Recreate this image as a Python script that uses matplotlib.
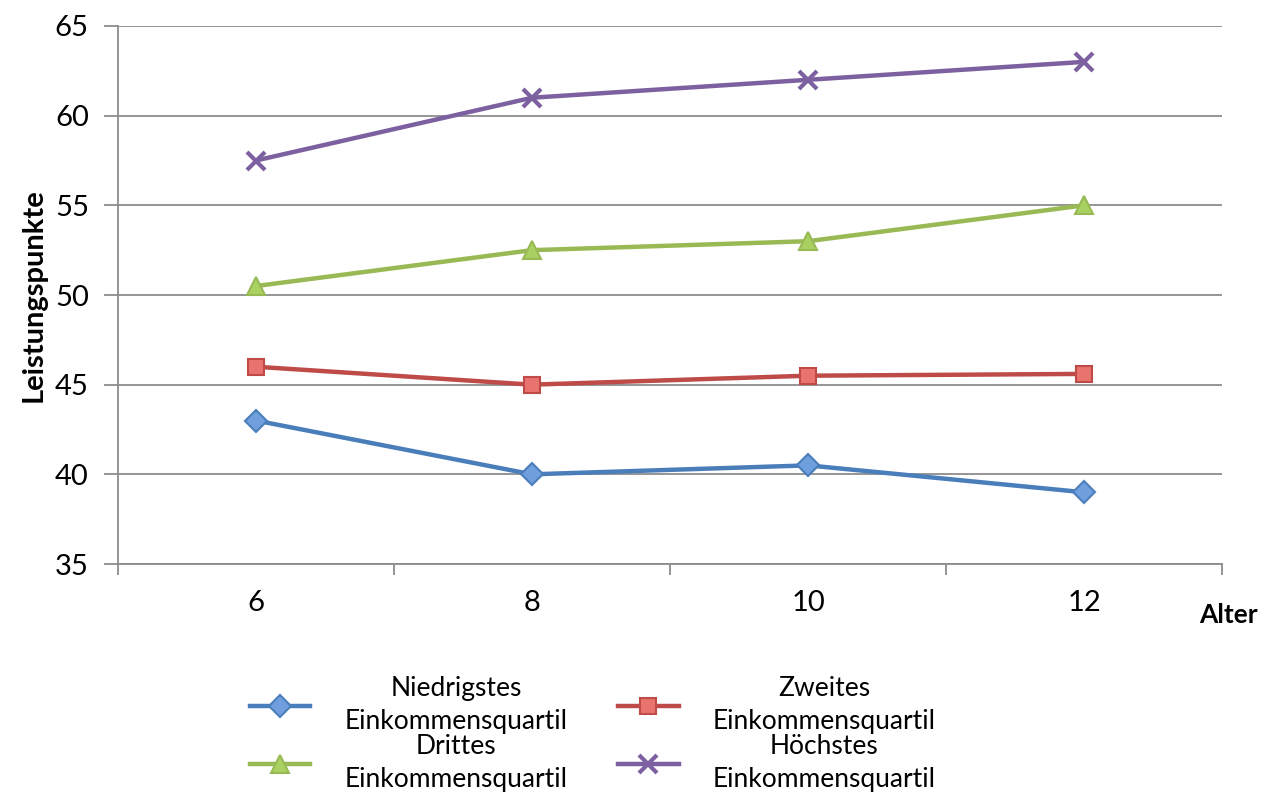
import numpy as np
import matplotlib.pyplot as plt

plt.rcParams['font.family'] = ['Lato', 'DejaVu Sans']

ages = ["6", "8", "10", "12"]
niedrigstes = [43, 40, 40.5, 39]
zweites = [46, 45, 45.5, 45.6]
drittes = [50.5, 52.5, 53, 55]
hoechstes = [57.5, 61, 62, 63]

series = [
    ("Niedrigstes\nEinkommensquartil", niedrigstes, "#4a7ebb", "D", "#6f9fdc", 11),
    ("Drittes\nEinkommensquartil", drittes, "#98b954", "^", "#a9d162", 13),
    ("Zweites\nEinkommensquartil", zweites, "#be4b48", "s", "#e8736f", 12),
    ("Höchstes\nEinkommensquartil", hoechstes, "#7d60a0", "x", "#7d60a0", 13),
]

fig = plt.figure(figsize=(12.65, 8), dpi=100)
ax = fig.add_axes([118 / 1265, 1 - 564 / 800, 1104 / 1265, 538 / 800])

x = np.arange(len(ages))
for label, vals, color, marker, fill, ms in series:
    ax.plot(x, vals, color=color, lw=3.2, marker=marker, markersize=ms,
            markerfacecolor=fill, markeredgecolor=color,
            markeredgewidth=1.5 if marker != "x" else 3,
            label=label, zorder=3)

ax.set_xlim(-0.5, 3.5)
ax.set_ylim(35, 65)
ax.set_yticks(np.arange(35, 66, 5))
ax.grid(axis="y", color="#8c8c8c", lw=1.3)
ax.set_axisbelow(True)

# category axis: ticks between categories, labels at the centres
ax.set_xticks(np.arange(-0.5, 3.6, 1))
ax.set_xticklabels([])
ax.set_xticks(x, minor=True)
ax.set_xticklabels(ages, minor=True, fontsize=21)
ax.tick_params(axis="x", which="major", length=8, color="#8c8c8c", width=1.3)
ax.tick_params(axis="x", which="minor", length=0, pad=19)
ax.tick_params(axis="y", length=10, color="#8c8c8c", width=1.3, labelsize=21, pad=11)

for s in ["top", "right"]:
    ax.spines[s].set_visible(False)
for s in ["left", "bottom"]:
    ax.spines[s].set_color("#8c8c8c")
    ax.spines[s].set_linewidth(1.3)

ax.set_ylabel("Leistungspunkte", fontsize=21, fontweight="bold", labelpad=6)
fig.text(1258 / 1265, 1 - 615 / 800, "Alter", fontsize=19, fontweight="bold",
         ha="right", va="center")

leg = fig.legend(loc="upper left", bbox_to_anchor=(226 / 1265, 1 - 652 / 800), ncol=2,
                 frameon=False, fontsize=19, handlelength=2.3, handletextpad=1.3,
                 columnspacing=1.9, labelspacing=0.0)
for t in leg.get_texts():
    t.set_multialignment("center")
    t.set_linespacing(1.4)

fig.savefig("out.png", dpi=100)
